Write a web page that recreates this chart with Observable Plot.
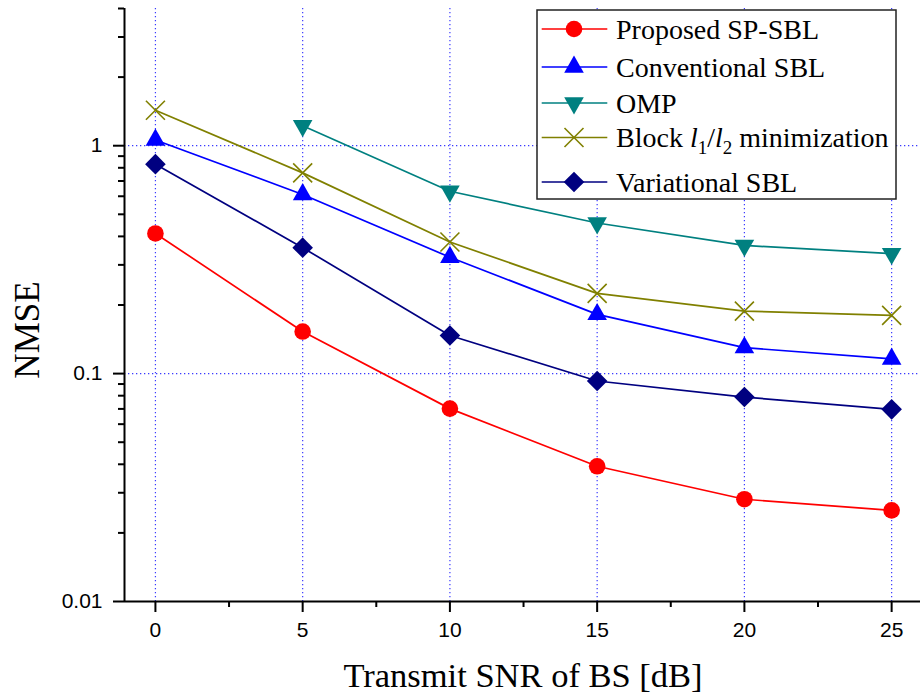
<!DOCTYPE html>
<html>
<head>
<meta charset="utf-8">
<script src="https://cdn.jsdelivr.net/npm/d3@7"></script>
<script src="https://cdn.jsdelivr.net/npm/@observablehq/plot@0.6"></script>
<style>
  html, body { margin: 0; padding: 0; background: white; }
  #chart { position: relative; width: 920px; height: 699px; }
</style>
</head>
<body>
<div id="chart"></div>
<script>
// ---- data ----
const snr = [0, 5, 10, 15, 20, 25];
const proposedSPSBL   = [0.412, 0.153, 0.0702, 0.0392, 0.0281, 0.0251];
const conventionalSBL = [1.06, 0.611, 0.324, 0.182, 0.130, 0.116];
const omp             = [null, 1.224, 0.631, 0.458, 0.365, 0.336];
const blockL1L2       = [1.43, 0.76, 0.378, 0.225, 0.188, 0.180];
const variationalSBL  = [0.83, 0.357, 0.147, 0.0928, 0.0789, 0.0697];

const seriesNames = ["Proposed SP-SBL", "Conventional SBL", "OMP", "Block l1/l2 minimization", "Variational SBL"];
const seriesColors = ["#ff0000", "#0000ff", "#008080", "#808000", "#000080"];

const xMajorTicks = [0, 5, 10, 15, 20, 25];
const xMinorTicks = [2.5, 7.5, 12.5, 17.5, 22.5];
const yMajorTicks = [0.01, 0.1, 1];
const yMinorTicks = [0.02,0.03,0.04,0.05,0.06,0.07,0.08,0.09,0.2,0.3,0.4,0.5,0.6,0.7,0.8,0.9,2,3,4];
const yGridTicks = [0.1, 1];
const xDomain = [-1.05, 25.98];
const yDomain = [0.01, 4];
const xTitle = "Transmit SNR of BS [dB]";
const yTitle = "NMSE";

// ---- symbols ----
const rOf = size => Math.sqrt(size / Math.PI);
const symUp = { draw(ctx, size) { const r = rOf(size), h = r * 1.75;
  ctx.moveTo(0, -2*h/3); ctx.lineTo(r, h/3); ctx.lineTo(-r, h/3); ctx.closePath(); } };
const symDown = { draw(ctx, size) { const r = rOf(size), h = r * 1.75;
  ctx.moveTo(0, 2*h/3); ctx.lineTo(r, -h/3); ctx.lineTo(-r, -h/3); ctx.closePath(); } };
const symDiamond = { draw(ctx, size) { const r = rOf(size);
  ctx.moveTo(0, -r); ctx.lineTo(r, 0); ctx.lineTo(0, r); ctx.lineTo(-r, 0); ctx.closePath(); } };
const symCross = { draw(ctx, size) { const r = rOf(size);
  ctx.moveTo(-r, -r); ctx.lineTo(r, r); ctx.moveTo(r, -r); ctx.lineTo(-r, r); } };
const symCircle = { draw(ctx, size) { const r = rOf(size);
  ctx.moveTo(r, 0); ctx.arc(0, 0, r, 0, 2*Math.PI); } };

const seriesValues = [proposedSPSBL, conventionalSBL, omp, blockL1L2, variationalSBL];
const seriesSymbols = [symCircle, symUp, symDown, symCross, symDiamond];
const seriesR = [8.3, 9.8, 9.8, 9.5, 10.3];
const seriesFilled = [true, true, true, false, true];

const table = [];
seriesNames.forEach((name, i) => {
  snr.forEach((x, j) => {
    if (seriesValues[i][j] != null) table.push({series: name, snr: x, v: seriesValues[i][j]});
  });
});

const gridStyle = {stroke: "#3a3aff", strokeOpacity: 1, strokeWidth: 1.2, strokeDasharray: "1.3,2.7"};

const marks = [
  Plot.ruleX(xMajorTicks, gridStyle),
  Plot.ruleY(yGridTicks, gridStyle),
  Plot.ruleX([xDomain[0]], {stroke: "black", strokeWidth: 2}),
  Plot.ruleY([yDomain[0]], {stroke: "black", strokeWidth: 2}),
  Plot.axisX(xMajorTicks, {anchor: "bottom", tickSize: 11, tickPadding: 10, strokeWidth: 2, fontSize: 21, label: null, tickFormat: d => String(d)}),
  Plot.axisX(xMinorTicks, {anchor: "bottom", tickSize: 6, strokeWidth: 2, label: null, tickFormat: () => ""}),
  Plot.axisY(yMajorTicks, {anchor: "left", tickSize: 11, tickPadding: 11, strokeWidth: 2, fontSize: 21, label: null, tickFormat: d => String(d)}),
  Plot.axisY(yMinorTicks, {anchor: "left", tickSize: 6, strokeWidth: 2, label: null, tickFormat: () => ""}),
];

seriesNames.forEach((name, i) => {
  const d = table.filter(r => r.series === name);
  marks.push(Plot.line(d, {x: "snr", y: "v", stroke: seriesColors[i], strokeWidth: 1.7}));
});
seriesNames.forEach((name, i) => {
  const d = table.filter(r => r.series === name);
  marks.push(Plot.dot(d, {x: "snr", y: "v", symbol: () => seriesSymbols[i], r: seriesR[i],
    fill: seriesFilled[i] ? seriesColors[i] : "none",
    stroke: seriesColors[i], strokeWidth: seriesFilled[i] ? 0 : 1.6}));
});

const chart = Plot.plot({
  width: 920, height: 699,
  marginLeft: 124, marginRight: 0, marginTop: 8, marginBottom: 98,
  style: {background: "white", fontFamily: "Liberation Sans, Arial, sans-serif", color: "black", overflow: "visible"},
  x: {type: "linear", domain: xDomain, axis: null},
  y: {type: "log", domain: yDomain, axis: null},
  symbol: {type: "identity"},
  marks
});

const svg = d3.select(chart);
const serif = "'Liberation Serif', 'Times New Roman', serif";

// ---- axis titles ----
svg.append("text").attr("x", 523).attr("y", 687).attr("text-anchor", "middle")
  .attr("font-family", serif).attr("font-size", 34.5).attr("fill", "black").text(xTitle);
svg.append("text").attr("transform", "translate(39,330) rotate(-90)").attr("text-anchor", "middle")
  .attr("font-family", serif).attr("font-size", 35).attr("fill", "black").text(yTitle);

// ---- legend ----
const lg = svg.append("g").attr("class", "legend").attr("text-anchor", "start");
lg.append("rect").attr("x", 537).attr("y", 10).attr("width", 359).attr("height", 189)
  .attr("fill", "white").attr("stroke", "#222").attr("stroke-width", 1.5);
const rowY = [29, 67, 103, 137.5, 182];
seriesNames.forEach((name, i) => {
  const y = rowY[i];
  lg.append("line").attr("x1", 541.7).attr("x2", 607.3).attr("y1", y).attr("y2", y)
    .attr("stroke", seriesColors[i]).attr("stroke-width", 1.7);
  const r = seriesR[i];
  lg.append("path").attr("transform", `translate(574,${y})`)
    .attr("d", d3.symbol(seriesSymbols[i], r * r * Math.PI)())
    .attr("fill", seriesFilled[i] ? seriesColors[i] : "none")
    .attr("stroke", seriesFilled[i] ? "none" : seriesColors[i])
    .attr("stroke-width", 1.6);
  const t = lg.append("text").attr("x", 616).attr("y", y + 9.5).attr("text-anchor", "start")
    .attr("font-family", serif).attr("font-size", 28).attr("fill", "black");
  if (i === 3) {
    t.append("tspan").text("Block ");
    t.append("tspan").attr("font-style", "italic").text("l");
    t.append("tspan").attr("font-size", 19).attr("dy", 7).text("1");
    t.append("tspan").attr("dy", -7).text("/");
    t.append("tspan").attr("font-style", "italic").text("l");
    t.append("tspan").attr("font-size", 19).attr("dy", 7).text("2");
    t.append("tspan").attr("dy", -7).text(" minimization");
  } else {
    t.text(name);
  }
});

document.getElementById("chart").appendChild(chart);
</script>
</body>
</html>
